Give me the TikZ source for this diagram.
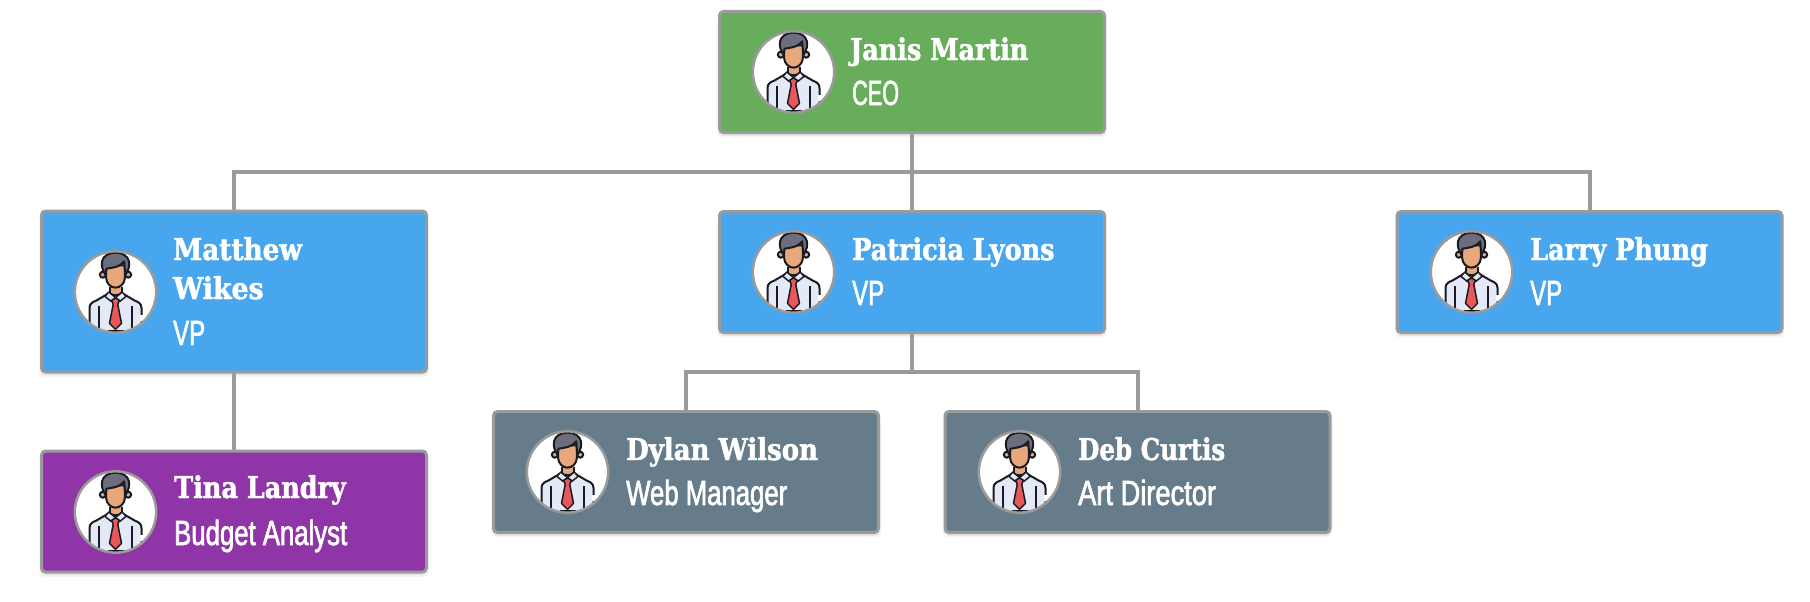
\documentclass[tikz,border=0pt]{standalone}
\usepackage{fontspec}
\usetikzlibrary{shadows,fadings}
\newfontfamily\namefont[FakeStretch=0.85,FakeBold=1.6]{DejaVu Serif Bold}
\newfontfamily\rolefont[FakeStretch=0.735,FakeBold=1.8]{Liberation Sans}
\definecolor{edgegray}{HTML}{9B9B9B}
\definecolor{ceogreen}{HTML}{67AD5B}
\definecolor{vpblue}{HTML}{47A6EE}
\definecolor{budgetpurple}{HTML}{8F35A8}
\definecolor{mgrslate}{HTML}{677C8A}
\definecolor{skintone}{HTML}{E8A87C}
\definecolor{hairgray}{HTML}{6D6E7D}
\definecolor{shirtblue}{HTML}{E3E9F6}
\definecolor{tiered}{HTML}{E8585A}
\definecolor{inkdark}{HTML}{1A1A22}
\tikzset{
  x=1pt,y=-1pt,
  orgbox/.style={rectangle,rounded corners=4pt,draw=edgegray,line width=3pt,
    minimum width=385pt,inner sep=0pt,outer sep=0pt,
    general shadow={fill=black,opacity=.04,shadow xshift=0pt,shadow yshift=-4pt,shadow scale=1.012},
    general shadow={fill=black,opacity=.06,shadow xshift=0pt,shadow yshift=-3pt,shadow scale=1.004}},
  namelabel/.style={anchor=base west,inner sep=0pt,text=white,font=\namefont\fontsize{30}{34}\selectfont},
  rolelabel/.style={anchor=base west,inner sep=0pt,text=white,font=\rolefont\fontsize{35}{40}\selectfont},
  connector/.style={draw=edgegray,line width=4pt},
  avatar/.pic={
    \begin{scope}[scale=1/3]
      \fill[white] (0,0) circle (122);
      \begin{scope}
        \clip (0,0) circle (122);
        % shirt
        \draw[fill=shirtblue,draw=inkdark,line width=2pt,line join=round]
          (-78,150) -- (-78,48) .. controls (-78,34) and (-68,30) .. (-58,26)
          -- (-24,6) -- (24,6) -- (58,26) .. controls (68,30) and (78,34) .. (78,48) -- (78,150) -- cycle;
        \fill[white] (74,68) rectangle (84,88);
        \draw[inkdark,line width=2pt] (-50,42) -- (-50,130) (50,42) -- (50,130);
        % neck
        \fill[skintone] (-18,-24) rectangle (18,14);
        \draw[inkdark,line width=2pt] (-18,-15) -- (-18,3) (18,-15) -- (18,3);
        \draw[inkdark,line width=2pt] (-18,3) .. controls (-10,12) and (10,12) .. (18,3);
        % collar
        \draw[fill=shirtblue,draw=inkdark,line width=1.5pt,line join=round] (-20,0) -- (0,17) -- (-12,29) -- (-32,13) -- cycle;
        \draw[fill=shirtblue,draw=inkdark,line width=1.5pt,line join=round] (20,0) -- (0,17) -- (12,29) -- (32,13) -- cycle;
        % tie
        \draw[fill=tiered,draw=inkdark,line width=1.5pt,line join=round]
          (-11,24) -- (0,18) -- (11,24) -- (7,38) -- (18,94) -- (0,112) -- (-18,94) -- (-7,38) -- cycle;
        \draw[inkdark,line width=2.4pt] (-24,119) -- (24,119);
        % ears
        \draw[fill=skintone,draw=inkdark,line width=2pt] (-38,-52) circle (9);
        \draw[fill=skintone,draw=inkdark,line width=2pt] (38,-52) circle (9);
        % face
        \draw[fill=skintone,draw=inkdark,line width=2pt]
          (-28,-80) -- (-28,-42) .. controls (-28,-26) and (-14,-13) .. (0,-13)
          .. controls (14,-13) and (28,-26) .. (28,-42) -- (28,-80) -- cycle;
        % hair
        \draw[fill=hairgray,draw=inkdark,line width=2pt,line join=round]
          (-30,-52) .. controls (-48,-76) and (-48,-117) .. (0,-118)
          .. controls (48,-117) and (48,-76) .. (30,-52)
          -- (28,-68) -- (26,-92) .. controls (16,-78) and (2,-74) .. (-27,-70) -- cycle;
      \end{scope}
      \draw[edgegray,line width=2.5pt] (0,0) circle (122);
    \end{scope}
  }
}
\begin{document}
\begin{tikzpicture}
\useasboundingbox (0,0) rectangle (1810,602);
\fill[white] (0,0) rectangle (1810,602);
% boxes
\node[orgbox,fill=ceogreen,minimum height=121pt] (ceo) at (912,72) {};
\node[orgbox,fill=vpblue,minimum height=161pt] (matt) at (234,291.5) {};
\node[orgbox,fill=vpblue,minimum height=121pt] (pat) at (912,272) {};
\node[orgbox,fill=vpblue,minimum height=121pt] (larry) at (1589.5,272) {};
\node[orgbox,fill=budgetpurple,minimum height=121pt] (tina) at (234,511.5) {};
\node[orgbox,fill=mgrslate,minimum height=121pt] (dylan) at (686,472) {};
\node[orgbox,fill=mgrslate,minimum height=121pt] (deb) at (1137.5,472) {};
% connectors
\coordinate (busone) at (912,172);
\coordinate (bustwo) at (912,372);
\draw[connector] (ceo.south) -- (pat.north);
\draw[connector] (matt.north) |- (busone) -| (larry.north);
\draw[connector] (matt.south) -- (tina.north);
\draw[connector] (pat.south) -- (bustwo);
\draw[connector] (dylan.north) |- (bustwo) -| (deb.north);
% avatars
\pic at (793.5,72) {avatar};
\pic at (115.5,292) {avatar};
\pic at (793.5,272) {avatar};
\pic at (1471.5,272) {avatar};
\pic at (115.5,512) {avatar};
\pic at (567.5,472) {avatar};
\pic at (1019.5,472) {avatar};
% labels
\node[namelabel] (n1) at (850,60) {Janis Martin};
\node[rolelabel] (r1) at (852,105) {\scalebox{.84}[1]{CEO}};
\node[namelabel] (n2) at (173,260) {\scalebox{1.03}[1]{Matthew}};
\node[namelabel] (n2b) at (173,299) {\scalebox{1.05}[1]{Wikes}};
\node[rolelabel] (r2) at (173,345) {\scalebox{.93}[1]{VP}};
\node[namelabel] (n3) at (852,260) {Patricia Lyons};
\node[rolelabel] (r3) at (852,305) {\scalebox{.93}[1]{VP}};
\node[namelabel] (n4) at (1530,260) {Larry Phung};
\node[rolelabel] (r4) at (1530,305) {\scalebox{.93}[1]{VP}};
\node[namelabel] (n5) at (174,498) {Tina Landry};
\node[rolelabel] (r5) at (174,545) {Budget Analyst};
\node[namelabel] (n6) at (626,460) {\scalebox{1.02}[1]{Dylan Wilson}};
\node[rolelabel] (r6) at (626,505) {Web Manager};
\node[namelabel] (n7) at (1078,460) {\scalebox{.96}[1]{Deb Curtis}};
\node[rolelabel] (r7) at (1078,505) {\scalebox{1.06}[1]{Art Director}};
\end{tikzpicture}
\end{document}
